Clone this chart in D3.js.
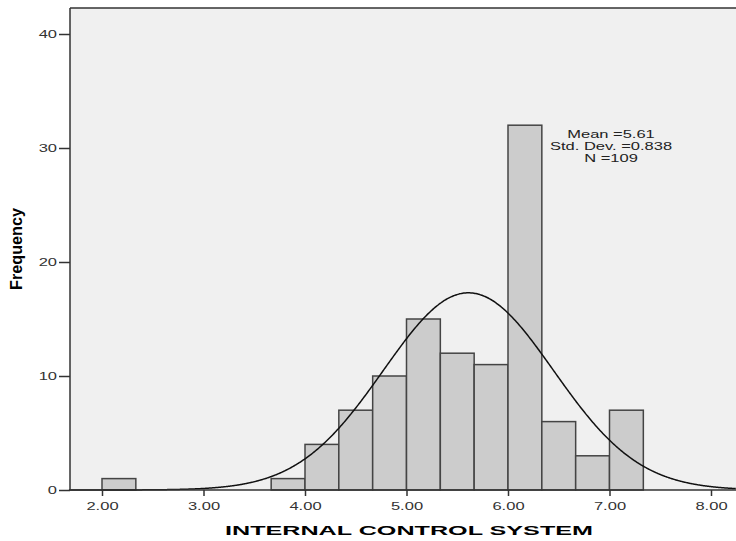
<!DOCTYPE html>
<html>
<head>
<meta charset="utf-8">
<script src="https://cdn.jsdelivr.net/npm/d3@7"></script>
<style>
  body { margin: 0; background: #fff; }
  svg text { font-family: "Liberation Sans", Arial, sans-serif; }
</style>
</head>
<body>
<div id="chart"></div>
<script>
//------------------------------------------------------------------------------
// Histogram data (bin width 1/3)
//------------------------------------------------------------------------------
var binStarts = [2.0, 3.6667, 4.0, 4.3333, 4.6667, 5.0, 5.3333, 5.6667, 6.0, 6.3333, 6.6667, 7.0];
var binCounts = [1, 1, 4, 7, 10, 15, 12, 11, 32, 6, 3, 7];
var binWidth = 1 / 3;
var xTicks = [2, 3, 4, 5, 6, 7, 8];
var yTicks = [0, 10, 20, 30, 40];
var statsLines = ["Mean =5.61", "Std. Dev. =0.838", "N =109"];
var mean = 5.61, sd = 0.838, n = 109;

//------------------------------------------------------------------------------
// Drawing
//------------------------------------------------------------------------------
function draw_histogram() {
	var width = 736, height = 541;
	var left = 70, right = 736, top = 8, bottom = 490;
	var stretch = 1.5;   // text in the original is drawn wide

	var svg = d3.select("#chart").append("svg")
		.attr("width", width)
		.attr("height", height);

	var x = d3.scaleLinear().domain([2, 8]).range([102, 711]);
	var y = d3.scaleLinear().domain([0, 40]).range([bottom, 34]);

	// plot background
	svg.append("rect")
		.attr("x", left).attr("y", top)
		.attr("width", right - left).attr("height", bottom - top)
		.attr("fill", "#f0f0f0");

	// bars
	svg.selectAll("rect.bar")
		.data(binStarts)
		.enter().append("rect")
		.attr("class", "bar")
		.attr("x", function(d) { return x(d); })
		.attr("y", function(d, i) { return y(binCounts[i]); })
		.attr("width", function(d) { return x(d + binWidth) - x(d); })
		.attr("height", function(d, i) { return bottom - y(binCounts[i]); })
		.attr("fill", "#cccccc")
		.attr("stroke", "#444")
		.attr("stroke-width", 1.5);

	// normal curve
	var xs = d3.range(1.674, 8.25, 0.01);
	var scale = n * binWidth / (sd * Math.sqrt(2 * Math.PI));
	var line = d3.line()
		.x(function(d) { return x(d); })
		.y(function(d) { return y(scale * Math.exp(-0.5 * Math.pow((d - mean) / sd, 2))); })
		.curve(d3.curveBasis);
	svg.append("path")
		.datum(xs)
		.attr("d", line)
		.attr("fill", "none")
		.attr("stroke", "#111")
		.attr("stroke-width", 1.5);

	// frame line on top
	svg.append("line").attr("x1", left).attr("x2", right).attr("y1", top).attr("y2", top)
		.attr("stroke", "#333").attr("stroke-width", 1.5);

	// axes
	var xAxis = d3.axisBottom(x).tickValues(xTicks).tickFormat(d3.format(".2f")).tickSize(6).tickSizeOuter(0);
	var yAxis = d3.axisLeft(y).tickValues(yTicks).tickSize(11).tickSizeOuter(0);

	var gx = svg.append("g").attr("transform", "translate(0," + bottom + ")").call(xAxis);
	gx.select(".domain").attr("d", "M" + left + ",0H" + right);
	var gy = svg.append("g").attr("transform", "translate(" + left + ",0)").call(yAxis);
	gy.select(".domain").attr("d", "M0," + top + "V" + bottom);

	[gx, gy].forEach(function(g) {
		g.select(".domain").attr("stroke", "#333").attr("stroke-width", 1.5);
		g.selectAll(".tick line").attr("stroke", "#333").attr("stroke-width", 1.5);
		g.selectAll(".tick text")
			.attr("font-size", 11)
			.attr("fill", "#333")
			.attr("transform", "scale(" + stretch + ",1)")
			.style("font-family", "'Liberation Sans', Arial, sans-serif");
	});
	gx.selectAll(".tick text").attr("y", 20).attr("dy", 0);
	gy.selectAll(".tick text").attr("x", -13 / stretch);

	// axis titles
	svg.append("text")
		.attr("x", 225).attr("y", 535)
		.attr("font-size", 13)
		.attr("font-weight", "bold")
		.attr("textLength", 368)
		.attr("lengthAdjust", "spacingAndGlyphs")
		.text("INTERNAL CONTROL SYSTEM");

	svg.append("text")
		.attr("transform", "translate(22,290) rotate(-90)")
		.attr("font-size", 16)
		.attr("font-weight", "bold")
		.attr("textLength", 82)
		.attr("lengthAdjust", "spacingAndGlyphs")
		.text("Frequency");

	// stats box
	svg.selectAll("text.stats")
		.data(statsLines)
		.enter().append("text")
		.attr("class", "stats")
		.attr("transform", function(d, i) { return "translate(611," + (137.5 + i * 12.2) + ") scale(" + stretch + ",1)"; })
		.attr("text-anchor", "middle")
		.attr("font-size", 11)
		.attr("fill", "#222")
		.text(function(d) { return d; });
}

function main() {
	draw_histogram();
}

window.addEventListener('load', main, false);
</script>
</body>
</html>
